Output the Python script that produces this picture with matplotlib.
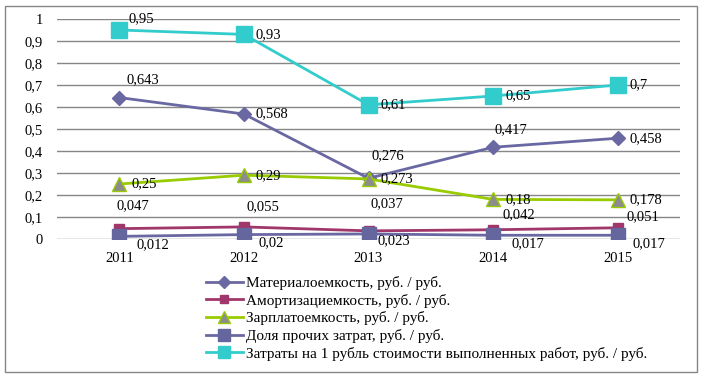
import matplotlib
matplotlib.use("Agg")
import matplotlib.pyplot as plt
from matplotlib.patches import Rectangle

years = ['2011', '2012', '2013', '2014', '2015']
material = [0.643, 0.568, 0.276, 0.417, 0.458]
amort = [0.047, 0.055, 0.037, 0.042, 0.051]
zarplata = [0.25, 0.29, 0.273, 0.18, 0.178]
prochie = [0.012, 0.02, 0.023, 0.017, 0.017]
zatraty = [0.95, 0.93, 0.61, 0.65, 0.7]

names = ['Материалоемкость, руб. / руб.',
         'Амортизациемкость, руб. / руб.',
         'Зарплатоемкость, руб. / руб.',
         'Доля прочих затрат, руб. / руб.',
         'Затраты на 1 рубль стоимости выполненных работ, руб. / руб.']

plt.rcParams['font.family'] = ['Liberation Serif', 'DejaVu Serif']

fig = plt.figure(figsize=(7.04, 3.78), dpi=100)
ax = fig.add_axes([57/704, 1-239/378, (680-57)/704, 220/378])

x = range(len(years))

styles = [
    dict(color='#6a68a2', marker='D', markersize=7.5, mfc='#6a68a2', mec='#6a68a2'),
    dict(color='#a0366a', marker='s', markersize=7.5, mfc='#a0366a', mec='#a0366a'),
    dict(color='#99cc00', marker='^', markersize=10, mfc='#8c8c8c', mec='#99cc00'),
    dict(color='#6a68a2', marker='s', markersize=10.5, mfc='#66669e', mec='#66669e'),
    dict(color='#33cccc', marker='s', markersize=11, mfc='#33cccc', mec='#33cccc'),
]
series = [material, amort, zarplata, prochie, zatraty]

for vals, name, st in zip(series, names, styles):
    ax.plot(x, vals, lw=2, label=name, zorder=3, **st)

# label offsets in pixels (dx, dy)
offsets = [
    [(7, 18), (12, 0), (3, 23), (1, 18), (12, 0)],
    [(-3, 23), (3, 20), (2, 27), (9, 15), (9, 11)],
    [(12, 0), (12, 0), (12, 0), (12, 0), (12, 0)],
    [(17, -8), (15, -8), (9, -7), (18, -8), (15, -8)],
    [(9, 11), (12, 0), (12, 0), (12, 0), (12, 0)],
]
for vals, offs in zip(series, offsets):
    for i, v in enumerate(vals):
        ax.annotate(('%g' % v).replace('.', ','), (i, v), xytext=offs[i],
                    textcoords='offset pixels', ha='left', va='center',
                    fontsize=10.5, zorder=5)

ax.set_xlim(-0.5, 4.5)
ax.set_ylim(0, 1)
ax.set_yticks([i / 10 for i in range(11)])
ax.set_yticklabels(['0', '0,1', '0,2', '0,3', '0,4', '0,5', '0,6', '0,7', '0,8', '0,9', '1'])
ax.set_xticks(list(x))
ax.set_xticklabels(years)
ax.tick_params(length=0, labelsize=10.5, pad=9)
ax.tick_params(axis='y', pad=10)
ax.grid(axis='y', color='#868686', lw=1)
ax.set_axisbelow(True)
for s in ax.spines.values():
    s.set_visible(False)

fig.legend(loc='upper left', bbox_to_anchor=(206/704, 1-276/378), frameon=False,
           fontsize=11, handlelength=2.4, handletextpad=0.2, labelspacing=0.24,
           borderpad=0, borderaxespad=0, markerscale=0.85)

fig.patches.append(Rectangle((5/704, 6/378), 692/704, 366/378, transform=fig.transFigure,
                             fill=False, edgecolor='#868686', lw=1))

fig.savefig('out.png', dpi=100)
